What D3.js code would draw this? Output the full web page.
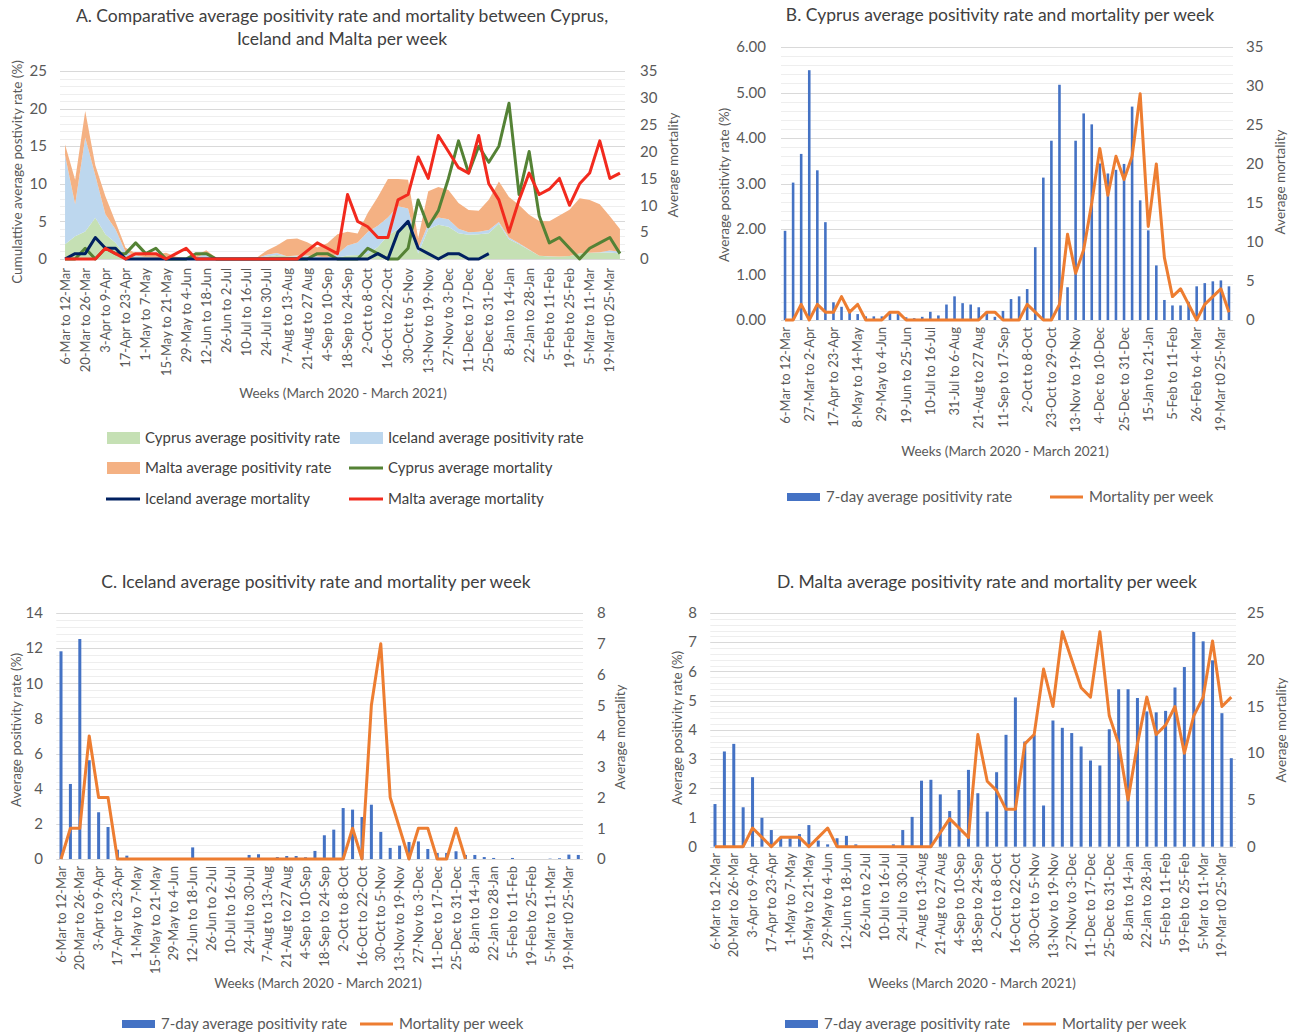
<!DOCTYPE html>
<html>
<head>
<meta charset="utf-8">
<script src="https://cdn.jsdelivr.net/npm/d3@7"></script>
<style>
  body { margin: 0; background: #fff; }
  svg text { font-family: Lato, "Open Sans", sans-serif; }
</style>
</head>
<body>
<svg id="chart" width="1292" height="1034"></svg>
<script>
// week categories (March 2020 - March 2021)
var weeks = ["6-Mar to 12-Mar","13-Mar to 19-Mar","20-Mar to 26-Mar","27-Mar to 2-Apr","3-Apr to 9-Apr","10-Apr to 16-Apr",
  "17-Apr to 23-Apr","24-Apr to 30-Apr","1-May to 7-May","8-May to 14-May","15-May to 21-May","22-May to 28-May",
  "29-May to 4-Jun","5-Jun to 11-Jun","12-Jun to 18-Jun","19-Jun to 25-Jun","26-Jun to 2-Jul","3-Jul to 9-Jul",
  "10-Jul to 16-Jul","17-Jul to 23-Jul","24-Jul to 30-Jul","31-Jul to 6-Aug","7-Aug to 13-Aug","14-Aug to 20-Aug",
  "21-Aug to 27 Aug","28-Aug to 3-Sep","4-Sep to 10-Sep","11-Sep to 17-Sep","18-Sep to 24-Sep","25-Sep to 1-Oct",
  "2-Oct to 8-Oct","9-Oct to 15-Oct","16-Oct to 22-Oct","23-Oct to 29-Oct","30-Oct to 5-Nov","6-Nov to 12-Nov",
  "13-Nov to 19-Nov","20-Nov to 26-Nov","27-Nov to 3-Dec","4-Dec to 10-Dec","11-Dec to 17-Dec","18-Dec to 24-Dec",
  "25-Dec to 31-Dec","1-Jan to 7-Jan","8-Jan to 14-Jan","15-Jan to 21-Jan","22-Jan to 28-Jan","29-Jan to 4-Feb",
  "5-Feb to 11-Feb","12-Feb to 18-Feb","19-Feb to 25-Feb","26-Feb to 4-Mar","5-Mar to 11-Mar","12-Mar to 18-Mar",
  "19-Mar t0 25-Mar","26-Mar to 1-Apr"];

// 7-day average positivity rate (%)
var cyprusPositivity = [1.96,3.02,3.65,5.49,3.29,2.15,0.39,0.29,0.23,0.13,
  0.08,0.08,0.08,0.18,0.13,0.06,0.04,0.07,0.18,0.10,
  0.34,0.52,0.37,0.34,0.28,0.15,0.07,0.20,0.46,0.52,
  0.68,1.60,3.13,3.94,5.17,0.72,3.94,4.54,4.30,3.44,
  3.22,3.30,3.43,4.69,2.63,1.97,1.20,0.44,0.32,0.32,
  0.40,0.74,0.81,0.85,0.87,0.74];
var icelandPositivity = [11.82,4.27,12.52,5.62,2.66,1.82,0.53,0.19,0,0,
  0,0,0,0,0.66,0,0,0,0,0,
  0.23,0.27,0,0.11,0.17,0.17,0.10,0.46,1.35,1.67,
  2.90,2.81,2.39,3.09,1.54,0.63,0.76,0.97,1.00,0.57,
  0.34,0.34,0.44,0.23,0.23,0.11,0.06,0,0.06,0,
  0,0,0.02,0.04,0.25,0.23];
var maltaPositivity = [1.46,3.26,3.52,1.35,2.38,0.99,0.57,0.29,0.29,0.43,
  0.74,0.21,0.08,0.29,0.37,0.08,0,0,0,0.08,
  0.57,1.02,2.26,2.29,1.79,1.22,1.94,2.63,1.83,1.20,
  2.55,3.83,5.11,3.60,3.83,1.41,4.32,4.07,3.89,3.43,
  2.95,2.78,4.02,5.39,5.39,5.09,4.63,4.60,4.65,5.45,
  6.15,7.35,7.03,6.38,4.57,3.03];

// average mortality per week
var cyprusMortality = [0,0,2,0,2,1,1,3,1,2,
  0,0,0,1,1,0,0,0,0,0,
  0,0,0,0,0,1,1,0,0,0,
  2,1,0,0,2,11,6,9,15,22,
  16,21,18,21,29,12,20,8,3,4,
  2,0,2,3,4,1];
var icelandMortality = [0,1,1,4,2,2,0,0,0,0,
  0,0,0,0,0,0,0,0,0,0,
  0,0,0,0,0,0,0,0,0,0,
  0,1,0,5,7,2,1,0,1,1,
  0,0,1,0];
var maltaMortality = [0,0,0,0,2,1,0,1,1,1,
  0,1,2,0,0,0,0,0,0,0,
  0,0,0,0,1.5,3,2,1,12,7,
  6,4,4,11,12,19,15,23,20,17,
  16,23,14,11,5,11,16,12,13,15,
  10,14,16,22,15,16];

// axis ticks
var ticksA = [0,5,10,15,20,25], ticksA2 = [0,5,10,15,20,25,30,35];
var ticksB = [0,1,2,3,4,5,6], ticksB2 = [0,5,10,15,20,25,30,35];
var ticksC = [0,2,4,6,8,10,12,14], ticksC2 = [0,1,2,3,4,5,6,7,8];
var ticksD = [0,1,2,3,4,5,6,7,8], ticksD2 = [0,5,10,15,20,25];

var textCol = "#595959", titleCol = "#404040";
var barCol = "#4472c4", lineCol = "#ed7d31";

var svg = d3.select("#chart");
svg.append("rect").attr("width", 1292).attr("height", 1034).attr("fill", "#fff");

// shared frame: gridlines, tick labels, axis titles, category labels
function frame(p) {
  var g = svg.append("g");
  var x = d3.scaleBand().domain(d3.range(weeks.length)).range([p.left, p.right]);
  var y = d3.scaleLinear().domain([0, d3.max(p.ticks)]).range([p.bottom, p.top]);
  var y2 = d3.scaleLinear().domain([0, d3.max(p.ticks2)]).range([p.bottom, p.top]);
  var step = p.ticks[1] - p.ticks[0];

  g.selectAll(".minor").data(d3.range(0, d3.max(p.ticks) + 1e-9, step / 5)).enter().append("line")
    .attr("x1", p.left).attr("x2", p.right)
    .attr("y1", function(d) { return Math.round(y(d)) + 0.5; })
    .attr("y2", function(d) { return Math.round(y(d)) + 0.5; })
    .attr("stroke", "#eeeeee");
  g.selectAll(".major").data(p.ticks).enter().append("line")
    .attr("x1", p.left).attr("x2", p.right)
    .attr("y1", function(d) { return Math.round(y(d)) + 0.5; })
    .attr("y2", function(d) { return Math.round(y(d)) + 0.5; })
    .attr("stroke", "#d9d9d9");

  g.selectAll(".tl").data(p.ticks).enter().append("text")
    .attr("x", p.tickL).attr("y", function(d) { return y(d); }).attr("dy", "0.35em")
    .attr("text-anchor", "end").attr("fill", textCol).style("font-size", "15px")
    .text(p.fmt || String);
  g.selectAll(".tr").data(p.ticks2).enter().append("text")
    .attr("x", p.tickR).attr("y", function(d) { return y2(d); }).attr("dy", "0.35em")
    .attr("fill", textCol).style("font-size", "15px")
    .text(String);

  g.append("text").attr("transform", "translate(" + p.yTitle[0] + "," + p.yTitle[1] + ") rotate(-90)")
    .attr("text-anchor", "middle").attr("dy", "0.35em").attr("fill", textCol).style("font-size", "13.5px")
    .text(p.yLabel);
  g.append("text").attr("transform", "translate(" + p.y2Title[0] + "," + p.y2Title[1] + ") rotate(-90)")
    .attr("text-anchor", "middle").attr("dy", "0.35em").attr("fill", textCol).style("font-size", "13.5px")
    .text("Average mortality");

  g.selectAll(".xl").data(d3.range(0, weeks.length, p.every)).enter().append("text")
    .attr("transform", function(i) {
      return "translate(" + (x(i) + x.bandwidth() / 2) + "," + p.labelTop + ") rotate(-90)";
    })
    .attr("text-anchor", "end").attr("dy", "0.35em").attr("fill", textCol).style("font-size", "13px")
    .text(function(i) { return weeks[i]; });

  g.append("text").attr("x", p.xTitle[0]).attr("y", p.xTitle[1]).attr("text-anchor", "middle")
    .attr("fill", textCol).style("font-size", "13.5px").text("Weeks (March 2020 - March 2021)");

  p.title.forEach(function(t, k) {
    g.append("text").attr("x", p.titlePos[0]).attr("y", p.titlePos[1] + k * 23)
      .attr("text-anchor", "middle").attr("fill", titleCol).style("font-size", "17.5px").text(t);
  });

  return { g: g, x: x, y: y, y2: y2, cx: function(i) { return x(i) + x.bandwidth() / 2; } };
}

// bars + line combo (panels B, C, D)
function combo(p, positivity, mortality) {
  var f = frame(p);
  var bw = f.x.bandwidth() * 0.32;
  f.g.selectAll(".bar").data(positivity).enter().append("rect")
    .attr("x", function(d, i) { return f.cx(i) - bw / 2; })
    .attr("y", function(d) { return f.y(d); })
    .attr("width", bw)
    .attr("height", function(d) { return f.y(0) - f.y(d); })
    .attr("fill", barCol);
  f.g.append("path").datum(mortality)
    .attr("fill", "none").attr("stroke", lineCol).attr("stroke-width", 3).attr("stroke-linejoin", "round")
    .attr("d", d3.line().x(function(d, i) { return f.cx(i); }).y(function(d) { return f.y2(d); }));

  var lg = f.g.append("g").style("font-size", "15px");
  lg.append("rect").attr("x", p.legend[0]).attr("y", p.legend[2] - 4).attr("width", 33).attr("height", 8).attr("fill", barCol);
  lg.append("text").attr("x", p.legend[0] + 39).attr("y", p.legend[2]).attr("dy", "0.35em").attr("fill", textCol)
    .text("7-day average positivity rate");
  lg.append("line").attr("x1", p.legend[1]).attr("x2", p.legend[1] + 33).attr("y1", p.legend[2]).attr("y2", p.legend[2])
    .attr("stroke", lineCol).attr("stroke-width", 3);
  lg.append("text").attr("x", p.legend[1] + 39).attr("y", p.legend[2]).attr("dy", "0.35em").attr("fill", textCol)
    .text("Mortality per week");
}

// ---- Panel A ----
var fa = frame({
  left: 60, right: 625, top: 71, bottom: 259, ticks: ticksA, ticks2: ticksA2,
  tickL: 47, tickR: 640, yTitle: [17, 172], y2Title: [673, 165],
  yLabel: "Cumulattive average postivity rate (%)", every: 2, labelTop: 268,
  xTitle: [343, 398], titlePos: [342, 22],
  title: ["A. Comparative average positivity rate and mortality between Cyprus,", "Iceland and Malta per week"]
});

var table = weeks.map(function(w, i) {
  return { cyprus: cyprusPositivity[i], iceland: icelandPositivity[i], malta: maltaPositivity[i] };
});
var stacked = d3.stack().keys(["cyprus", "iceland", "malta"])(table);
var areaCols = { cyprus: "#c5e0b4", iceland: "#bdd7ee", malta: "#f4b183" };
var area = d3.area()
  .x(function(d, i) { return fa.cx(i); })
  .y0(function(d) { return fa.y(d[0]); })
  .y1(function(d) { return fa.y(d[1]); });
fa.g.selectAll(".area").data(stacked).enter().append("path")
  .attr("fill", function(s) { return areaCols[s.key]; })
  .attr("d", area);

var mortLines = [
  { data: cyprusMortality, col: "#548235" },
  { data: icelandMortality.slice(0, 43), col: "#002060" },
  { data: maltaMortality, col: "#f22a1e" }
];
var lineA = d3.line().x(function(d, i) { return fa.cx(i); }).y(function(d) { return fa.y2(d); });
fa.g.selectAll(".mline").data(mortLines).enter().append("path")
  .attr("fill", "none").attr("stroke-width", 3).attr("stroke-linejoin", "round")
  .attr("stroke", function(d) { return d.col; })
  .attr("d", function(d) { return lineA(d.data); });

var legendA = [
  { label: "Cyprus average positivity rate", col: "#c5e0b4", type: "area", x: 107, y: 438 },
  { label: "Iceland average positivity rate", col: "#bdd7ee", type: "area", x: 350, y: 438 },
  { label: "Malta average positivity rate", col: "#f4b183", type: "area", x: 107, y: 468 },
  { label: "Cyprus average mortality", col: "#548235", type: "line", x: 350, y: 468 },
  { label: "Iceland average mortality", col: "#002060", type: "line", x: 107, y: 499 },
  { label: "Malta average mortality", col: "#f22a1e", type: "line", x: 350, y: 499 }
];
var lgA = fa.g.selectAll(".lgA").data(legendA).enter().append("g")
  .attr("transform", function(d) { return "translate(" + d.x + "," + d.y + ")"; });
lgA.filter(function(d) { return d.type == "area"; }).append("rect")
  .attr("x", 0).attr("y", -6).attr("width", 33).attr("height", 12).attr("fill", function(d) { return d.col; });
lgA.filter(function(d) { return d.type == "line"; }).append("line")
  .attr("x1", -1).attr("x2", 33).attr("stroke-width", 3).attr("stroke", function(d) { return d.col; });
lgA.append("text").attr("x", 38).attr("dy", "0.35em").attr("fill", titleCol).style("font-size", "15px")
  .text(function(d) { return d.label; });

// ---- Panel B ----
combo({
  left: 781, right: 1233, top: 47, bottom: 320, ticks: ticksB, ticks2: ticksB2, fmt: d3.format(".2f"),
  tickL: 766, tickR: 1246, yTitle: [724, 185], y2Title: [1280, 182],
  yLabel: "Average positivity rate (%)", every: 3, labelTop: 327,
  xTitle: [1005, 456], titlePos: [1000, 21],
  title: ["B. Cyprus average positivity rate and mortality per week"],
  legend: [787, 1050, 497]
}, cyprusPositivity, cyprusMortality);

// ---- Panel C ----
combo({
  left: 56.3, right: 583, top: 613, bottom: 859, ticks: ticksC, ticks2: ticksC2,
  tickL: 43, tickR: 597, yTitle: [16, 730], y2Title: [620, 737],
  yLabel: "Average positivity rate (%)", every: 2, labelTop: 866,
  xTitle: [318, 988], titlePos: [316, 588],
  title: ["C. Iceland average positivity rate and mortality per week"],
  legend: [122, 360, 1024]
}, icelandPositivity, icelandMortality);

// ---- Panel D ----
combo({
  left: 710.3, right: 1236, top: 613, bottom: 846.7, ticks: ticksD, ticks2: ticksD2,
  tickL: 697, tickR: 1247, yTitle: [677, 728], y2Title: [1281, 730],
  yLabel: "Average positivity rate (%)", every: 2, labelTop: 853,
  xTitle: [972, 988], titlePos: [987, 588],
  title: ["D. Malta average positivity rate and mortality per week"],
  legend: [785, 1023, 1024]
}, maltaPositivity, maltaMortality);
</script>
</body>
</html>
